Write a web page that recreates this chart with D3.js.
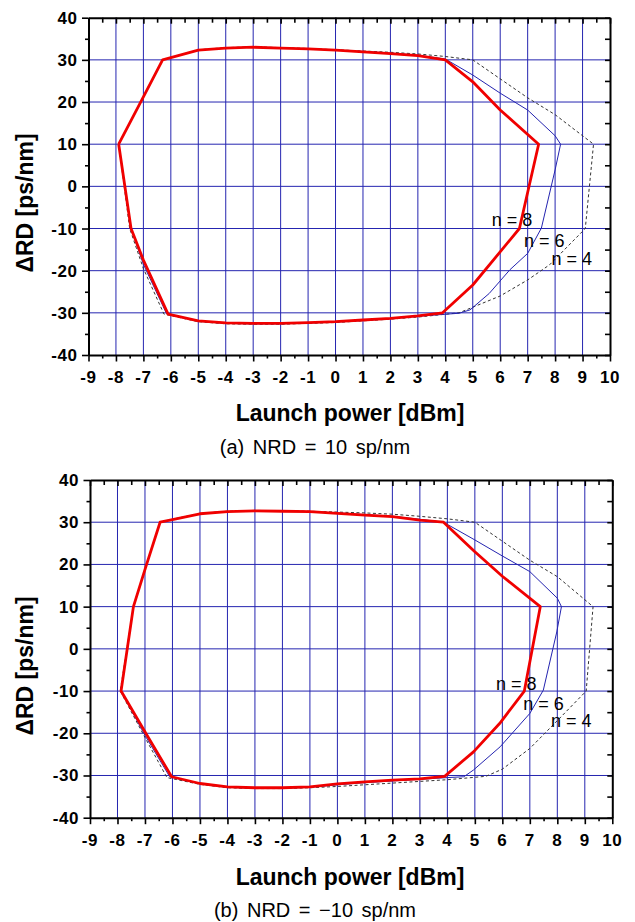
<!DOCTYPE html>
<html>
<head>
<meta charset="utf-8">
<script src="https://cdn.jsdelivr.net/npm/d3@7"></script>
<style>
body { margin: 0; background: #fff; }
svg { display: block; }
.tick-label { font-family: "Liberation Sans", Arial, sans-serif; font-weight: bold; font-size: 17px; letter-spacing: 0.6px; }
.axis-title { font-family: "Liberation Sans", Arial, sans-serif; font-weight: bold; font-size: 23px; }
.caption { font-family: "Liberation Sans", Arial, sans-serif; font-size: 20px; word-spacing: 3px; }
.note { font-family: "Liberation Sans", Arial, sans-serif; font-size: 18px; }
</style>
</head>
<body>
<svg width="635" height="922"></svg>
<script>
const svg = d3.select("svg");

// axis ticks
const xTicks = d3.range(-9, 11);
const yTicks = [-40, -30, -20, -10, 0, 10, 20, 30, 40];

// (a) NRD = 10 sp/nm
const n8a = [[-7.9,10],[-7.0,21.2],[-6.3,30],[-5,32.3],[-4,32.8],[-3,33],[-2,32.8],[-1,32.6],[0,32.3],[1,31.9],[2,31.5],[3,31],[4,30],[5,24.8],[6,18.1],[7.4,10],[6.7,-10],[5,-23.4],[3.9,-30],[3,-30.7],[2,-31.3],[1,-31.7],[0,-32.1],[-1,-32.3],[-2,-32.5],[-3,-32.5],[-4,-32.4],[-5,-31.9],[-6.1,-30.3],[-7,-17.5],[-7.45,-10],[-7.9,10]];
const n6a = [[-7.9,10],[-7.0,21.2],[-6.3,30],[-5,32.3],[-4,32.8],[-3,33],[-2,32.8],[-1,32.6],[0,32.3],[1,32],[2,31.6],[3,31.1],[4,30.2],[5,26.4],[6,22.1],[7,18.1],[8,12],[8.2,10],[8,3.9],[7.5,-9.9],[7,-15.9],[6.35,-19.8],[5.6,-25.4],[4.9,-29.3],[4.5,-30.1],[3,-30.8],[2,-31.4],[1,-31.8],[0,-32.2],[-1,-32.4],[-2,-32.6],[-3,-32.6],[-4,-32.5],[-5,-32],[-6.15,-30.3],[-7,-18.5],[-7.45,-10],[-7.9,10]];
const n4a = [[-7.9,10],[-7.0,21.2],[-6.3,30],[-5,32.4],[-4,32.9],[-3,33.1],[-2,32.9],[-1,32.7],[0,32.4],[1,32.1],[2,31.8],[3,31.4],[4,30.8],[5,30],[7,21],[8,17],[9.4,10],[9.1,-10],[7.8,-18.6],[7,-22.2],[6,-26],[4.5,-30],[3,-31],[2,-31.5],[1,-31.9],[0,-32.3],[-1,-32.5],[-2,-32.7],[-3,-32.7],[-4,-32.6],[-5,-32.1],[-6.25,-30.3],[-7,-19.5],[-7.5,-10],[-7.9,10]];

// (b) NRD = -10 sp/nm
const n8b = [[-7.42,10],[-6.97,19.4],[-6.45,30],[-6,30.6],[-5,32],[-4,32.5],[-3,32.7],[-2,32.6],[-1,32.5],[0,32.1],[1,31.7],[2,31.3],[3,30.5],[3.86,30],[5,23],[6,17.2],[7.38,10],[6.8,-10],[5.9,-17.7],[4.95,-24.4],[3.9,-30.2],[3,-30.8],[2,-31.1],[1,-31.5],[0,-32],[-1,-32.7],[-2,-32.9],[-3,-32.9],[-4,-32.7],[-5,-31.9],[-6.03,-30.3],[-6.97,-20],[-7.87,-10],[-7.42,10]];
const n6b = [[-7.42,10],[-6.97,19.4],[-6.45,30],[-6,30.6],[-5,32],[-4,32.5],[-3,32.7],[-2,32.6],[-1,32.5],[0,32.2],[1,31.8],[2,31.4],[3,30.7],[3.86,30],[5,25.8],[6,22],[7,18.3],[8,12],[8.15,10],[7.98,4],[7.49,-9.8],[7,-15.3],[5.92,-23.2],[4.95,-28.7],[4.6,-30.3],[4,-30.5],[3,-30.9],[2,-31.3],[1,-31.7],[0,-32.2],[-1,-32.8],[-2,-33],[-3,-33],[-4,-32.8],[-5,-32],[-6.1,-30.3],[-7,-20.5],[-7.87,-10],[-7.42,10]];
const n4b = [[-7.42,10],[-6.97,19.4],[-6.45,30],[-6,30.7],[-5,32.1],[-4,32.6],[-3,32.8],[-2,32.7],[-1,32.6],[0,32.4],[1,32.2],[2,31.9],[3,31.4],[4,30.8],[5,30],[7,21],[8,17.1],[9.3,10],[9.05,-10],[8,-17],[7,-23.6],[6,-28.5],[5.4,-30.2],[4,-31],[3,-31.4],[2,-31.8],[1,-32.2],[0,-32.6],[-1,-32.9],[-2,-33.1],[-3,-33.1],[-4,-32.9],[-5,-32.1],[-6.2,-30.5],[-7,-21],[-7.9,-10],[-7.42,10]];

// n labels, in data coords
const notesA = [["n = 8", 5.69, -9.5], ["n = 6", 6.87, -14.3], ["n = 4", 7.87, -18.7]];
const notesB = [["n = 8", 5.77, -9.7], ["n = 6", 6.76, -14.5], ["n = 4", 7.77, -18.4]];

const panels = [
	{ x0: 88.5, x1: 610, y0: 355, y1: 17.7, n8: n8a, n6: n6a, n4: n4a, notes: notesA,
	  caption: "(a) NRD = 10 sp/nm", capY: 454, titleY: 421, yTitleY: 203 },
	{ x0: 90, x1: 612.3, y0: 817.7, y1: 480, n8: n8b, n6: n6b, n4: n4b, notes: notesB,
	  caption: "(b) NRD = \u221210 sp/nm", capY: 917, titleY: 885, yTitleY: 666 }
];

function draw_panel(p) {
	const g = svg.append("g");
	const x = d3.scaleLinear().domain([-9, 10]).range([p.x0, p.x1]);
	const y = d3.scaleLinear().domain([-40, 40]).range([p.y0, p.y1]);

	// grid
	g.selectAll(".vg").data(xTicks.filter(d => d > -9 && d < 10)).enter()
		.append("line")
		.attr("x1", d => x(d)).attr("x2", d => x(d))
		.attr("y1", y(40)).attr("y2", y(-40))
		.attr("stroke", "#2525b0").attr("stroke-width", 1);
	g.selectAll(".hg").data(yTicks.filter(d => d > -40 && d < 40)).enter()
		.append("line")
		.attr("x1", x(-9)).attr("x2", x(10))
		.attr("y1", d => y(d)).attr("y2", d => y(d))
		.attr("stroke", "#2525b0").attr("stroke-width", 1);

	const line = d3.line().x(d => x(d[0])).y(d => y(d[1]));

	g.append("path").attr("d", line(p.n4))
		.attr("fill", "none").attr("stroke", "#333").attr("stroke-width", 1)
		.attr("stroke-dasharray", "3,2.5");
	g.append("path").attr("d", line(p.n6))
		.attr("fill", "none").attr("stroke", "#2424b0").attr("stroke-width", 1);
	g.append("path").attr("d", line(p.n8))
		.attr("fill", "none").attr("stroke", "#f00000").attr("stroke-width", 2.8)
		.attr("stroke-linejoin", "round");

	// axes
	const halfTicks = d3.range(-9, 10.01, 0.5);
	const fiveTicks = d3.range(-40, 40.01, 5);

	const bottom = d3.axisBottom(x).tickValues(halfTicks).tickSizeInner(0).tickSizeOuter(0).tickFormat("");
	const ax = g.append("g").attr("transform", `translate(0,${y(-40)})`).call(bottom);
	ax.selectAll(".tick line").attr("y2", d => Number.isInteger(d) ? 6.5 : 3.5);

	const top = d3.axisTop(x).tickValues(halfTicks).tickSizeInner(0).tickSizeOuter(0).tickFormat("");
	const at = g.append("g").attr("transform", `translate(0,${y(40)})`).call(top);
	at.selectAll(".tick line").attr("y2", d => Number.isInteger(d) ? 6 : 5);

	const left = d3.axisLeft(y).tickValues(fiveTicks).tickSizeInner(0).tickSizeOuter(0).tickFormat("");
	const al = g.append("g").attr("transform", `translate(${x(-9)},0)`).call(left);
	al.selectAll(".tick line").attr("x2", d => d % 10 === 0 ? -6.5 : -3.5);

	const right = d3.axisRight(y).tickValues(fiveTicks).tickSizeInner(0).tickSizeOuter(0).tickFormat("");
	const ar = g.append("g").attr("transform", `translate(${x(10)},0)`).call(right);
	ar.selectAll(".tick line").attr("x2", -5);

	g.selectAll(".domain").attr("stroke", "#000").attr("stroke-width", 2);
	g.selectAll(".tick line").attr("stroke", "#000").attr("stroke-width", 1.6);

	// tick labels
	g.selectAll(".xl").data(xTicks).enter()
		.append("text").attr("class", "tick-label")
		.attr("x", d => x(d)).attr("y", y(-40) + 28)
		.attr("text-anchor", "middle")
		.text(d => d);
	g.selectAll(".yl").data(yTicks).enter()
		.append("text").attr("class", "tick-label")
		.attr("x", x(-9) - 11).attr("y", d => y(d) + 6)
		.attr("text-anchor", "end")
		.text(d => d);

	// titles
	g.append("text").attr("class", "axis-title")
		.attr("x", 350).attr("y", p.titleY).attr("text-anchor", "middle")
		.text("Launch power [dBm]");
	g.append("text").attr("class", "axis-title")
		.attr("transform", `translate(33,${p.yTitleY}) rotate(-90)`)
		.attr("text-anchor", "middle")
		.text("\u0394RD [ps/nm]");
	g.append("text").attr("class", "caption")
		.attr("x", 315).attr("y", p.capY).attr("text-anchor", "middle")
		.text(p.caption);

	g.selectAll(".note").data(p.notes).enter()
		.append("text").attr("class", "note")
		.attr("x", d => x(d[1])).attr("y", d => y(d[2]))
		.text(d => d[0]);
}

panels.forEach(draw_panel);
</script>
</body>
</html>
